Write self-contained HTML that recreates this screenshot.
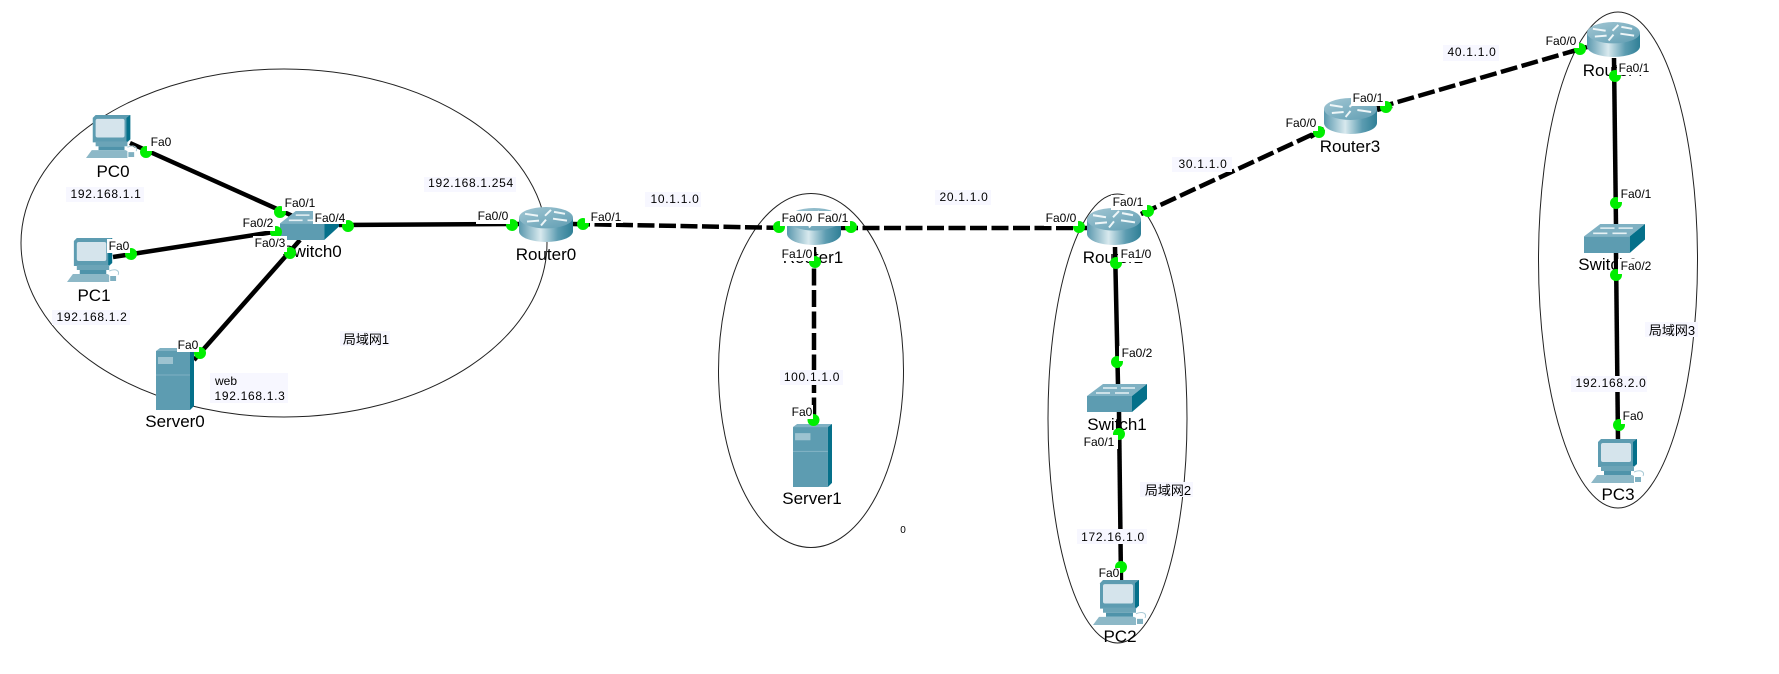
<!DOCTYPE html>
<html><head><meta charset="utf-8"><style>
html,body{margin:0;padding:0;background:#fff;width:1779px;height:674px;overflow:hidden}
svg{display:block}
text{font-family:"Liberation Sans","WenQuanYi Zen Hei","Noto Sans CJK SC",sans-serif;fill:#000}
.d{font-size:17px;text-anchor:middle}
.p{font-size:12px;text-anchor:middle}
.c{font-size:13px;text-anchor:middle}
.n{font-size:12px;text-anchor:middle;letter-spacing:.7px}
.e{fill:none;stroke:#222;stroke-width:1}
.s{stroke:#000;stroke-width:4.5;fill:none}
.k{stroke:#000;stroke-width:4.5;fill:none;stroke-dasharray:17 4.5}
.g{fill:#00ee00}
.w{fill:#fff}
.b{fill:#f7f7ff}
</style></head><body>
<svg width="1779" height="674" viewBox="0 0 1779 674" xmlns="http://www.w3.org/2000/svg">
<defs>
<linearGradient id="rg" x1="0" x2="1" y1="0" y2="0"><stop offset="0" stop-color="#5a98ae"/><stop offset=".4" stop-color="#d8e9ee"/><stop offset=".72" stop-color="#5c9cb1"/><stop offset="1" stop-color="#2f7f96"/></linearGradient>
<linearGradient id="rt" x1="0" x2="1" y1="0" y2="1"><stop offset="0" stop-color="#a3c7d4"/><stop offset="1" stop-color="#5f9db2"/></linearGradient>
<symbol id="router" viewBox="0 0 54 36" overflow="visible" preserveAspectRatio="none">
<path d="M0 11V25A27 11 0 0 0 54 25V11Z" fill="url(#rg)"/>
<ellipse cx="27" cy="11" rx="27" ry="11" fill="url(#rt)"/>
<path d="M6 7L19 9M48 14L34 12M32 3L26 9M22 19L27 13M35 5L46 7M8 15L20 14" stroke="#eef6f8" stroke-width="2" fill="none"/>
</symbol>
<symbol id="switch" viewBox="0 0 60 28" overflow="visible" preserveAspectRatio="none">
<rect x="0" y="12" width="45" height="16" fill="#5d9cb1"/>
<polygon points="0,12 16,0 60,0 45,12" fill="#7fb1c3"/>
<polygon points="45,12 60,0 60,15 45,28" fill="#05708a"/>
<path d="M16 4H30M34 4H48M9 9H23M28 9H42" stroke="#e6f1f4" stroke-width="1.5"/>
</symbol>
<symbol id="pc" viewBox="0 0 54 44" overflow="visible" preserveAspectRatio="none">
<polygon points="7,3 10,0 46,0 46,25 43,28 7,28" fill="#5d9cb1"/>
<polygon points="42,3 46,0 46,25 42,28" fill="#05708a"/>
<rect x="10" y="4" width="30" height="19" rx="2" fill="#d5e4ec"/>
<rect x="10" y="27" width="33" height="5" fill="#6ba4b7"/>
<rect x="13" y="32" width="27" height="4" fill="#4f93aa"/>
<polygon points="6,36 41,36 43,37 43,44 0,44" fill="#8db8c7"/>
<path d="M43 33C50 30 54 33 52 37" stroke="#a9cad6" stroke-width="1" fill="none"/>
<rect x="44" y="38" width="6" height="5" fill="#7fb0c1"/>
</symbol>
<symbol id="server" viewBox="0 0 38 62" overflow="visible" preserveAspectRatio="none">
<rect x="0" y="3" width="34" height="59" fill="#5d9cb1"/>
<polygon points="0,3 4,0 38,0 34,3" fill="#7fb1c3"/>
<polygon points="34,3 38,0 38,58 34,62" fill="#05708a"/>
<rect x="2" y="9" width="15" height="7" fill="#9dc3d0"/>
<path d="M0 27H34" stroke="#7fb1c3" stroke-width="1"/>
</symbol>
</defs>

<!-- areas -->
<ellipse class="e" cx="284" cy="243" rx="263" ry="174"/>
<ellipse class="e" cx="811" cy="370.5" rx="92.5" ry="177"/>
<ellipse class="e" cx="1117.5" cy="418.5" rx="69.5" ry="224.5"/>
<ellipse class="e" cx="1618" cy="260" rx="79.5" ry="248"/>

<!-- links -->
<line class="s" x1="130" y1="143" x2="295" y2="217"/>
<line class="s" x1="113" y1="257" x2="280" y2="231"/>
<line class="s" x1="194" y1="360" x2="300" y2="240"/>
<line class="s" x1="339" y1="225" x2="520" y2="224"/>
<line class="k" x1="573" y1="224" x2="788" y2="228"/>
<line class="k" x1="841" y1="228" x2="1088" y2="228"/>
<line class="k" x1="814" y1="247" x2="814" y2="424"/>
<line class="k" x1="1141" y1="214" x2="1324" y2="129"/>
<line class="k" x1="1377" y1="108" x2="1587" y2="47"/>
<line class="s" x1="1141" y1="214" x2="1154" y2="208"/>
<line class="s" x1="1377" y1="110" x2="1392" y2="106"/>
<line class="s" x1="1310" y1="137" x2="1324" y2="129"/>
<line class="s" x1="1570" y1="52" x2="1587" y2="47"/>
<line class="s" x1="1115" y1="247" x2="1118" y2="385"/>
<line class="s" x1="1119" y1="412" x2="1121" y2="582"/>
<line class="s" x1="1614" y1="58" x2="1616" y2="226"/>
<line class="s" x1="1616" y1="253" x2="1618" y2="441"/>

<!-- devices -->
<use href="#pc" x="86" y="115" width="52" height="43"/>
<use href="#pc" x="67" y="238" width="53" height="44"/>
<use href="#server" x="156" y="348" width="38" height="62"/>
<use href="#switch" x="280" y="211" width="59" height="29"/>
<use href="#router" x="519" y="207" width="54" height="35"/>
<use href="#router" x="787" y="208" width="54" height="37"/>
<use href="#server" x="793" y="424" width="39" height="63"/>
<use href="#router" x="1087" y="208" width="54" height="37"/>
<use href="#switch" x="1087" y="384" width="60" height="28"/>
<use href="#pc" x="1093" y="580" width="54" height="45"/>
<use href="#router" x="1324" y="98" width="53" height="36"/>
<use href="#router" x="1587" y="22" width="53" height="35"/>
<use href="#switch" x="1584" y="224" width="61" height="29"/>
<use href="#pc" x="1591" y="439" width="54" height="44"/>

<!-- device names -->
<text class="d" x="113" y="177">PC0</text>
<text class="d" x="94" y="301">PC1</text>
<text class="d" x="175" y="427">Server0</text>
<text class="d" x="312" y="257">Switch0</text>
<text class="d" x="546" y="260">Router0</text>
<text class="d" x="813" y="263">Router1</text>
<text class="d" x="812" y="504">Server1</text>
<text class="d" x="1113" y="263">Router2</text>
<text class="d" x="1117" y="430">Switch1</text>
<text class="d" x="1120" y="642">PC2</text>
<text class="d" x="1350" y="152">Router3</text>
<text class="d" x="1613" y="76">Router4</text>
<text class="d" x="1608" y="270">Switch2</text>
<text class="d" x="1618" y="500">PC3</text>

<!-- link dots -->
<g class="g">
<circle cx="146" cy="152" r="6"/><circle cx="280" cy="212" r="6"/><circle cx="131" cy="254" r="6"/>
<circle cx="276" cy="232" r="6"/><circle cx="290" cy="253" r="6"/><circle cx="200" cy="353" r="6"/>
<circle cx="348" cy="226" r="6"/><circle cx="512" cy="225" r="6"/><circle cx="583" cy="224" r="6"/>
<circle cx="779" cy="227" r="6"/><circle cx="851" cy="227" r="6"/><circle cx="815" cy="262" r="6"/>
<circle cx="813.5" cy="420" r="6"/><circle cx="1079" cy="227" r="6"/><circle cx="1148" cy="211" r="6"/>
<circle cx="1116" cy="263" r="6"/><circle cx="1117" cy="362" r="6"/><circle cx="1119" cy="434" r="6"/>
<circle cx="1121" cy="567" r="6"/><circle cx="1319" cy="132" r="6"/><circle cx="1386" cy="107" r="6"/>
<circle cx="1580" cy="49" r="6"/><circle cx="1615" cy="76" r="6"/><circle cx="1616" cy="203" r="6"/>
<circle cx="1616" cy="275" r="6"/><circle cx="1619" cy="425" r="6"/>
</g>

<!-- port labels -->
<rect class="w" x="147" y="136" width="25" height="15"/><text class="p" x="161" y="146">Fa0</text>
<rect class="w" x="282" y="196" width="35" height="15"/><text class="p" x="300" y="207">Fa0/1</text>
<rect class="w" x="241" y="216" width="34" height="15"/><text class="p" x="258" y="227">Fa0/2</text>
<rect class="w" x="253" y="236" width="34" height="16"/><text class="p" x="270" y="247">Fa0/3</text>
<rect class="w" x="313" y="211" width="33" height="13"/><text class="p" x="330" y="222">Fa0/4</text>
<rect class="w" x="107" y="239" width="23" height="14"/><text class="p" x="119" y="250">Fa0</text>
<rect class="w" x="177" y="338" width="22" height="14"/><text class="p" x="188" y="349">Fa0</text>
<rect class="w" x="476" y="209" width="34" height="15"/><text class="p" x="493" y="220">Fa0/0</text>
<rect class="w" x="585" y="210" width="38" height="13"/><text class="p" x="606" y="221">Fa0/1</text>
<rect class="w" x="780" y="211" width="34" height="15"/><text class="p" x="797" y="222">Fa0/0</text>
<rect class="w" x="814" y="211" width="36" height="15"/><text class="p" x="833" y="222">Fa0/1</text>
<rect class="w" x="780" y="247" width="34" height="14"/><text class="p" x="797" y="258">Fa1/0</text>
<rect class="w" x="791" y="405" width="22" height="14"/><text class="p" x="802" y="416">Fa0</text>
<rect class="w" x="1044" y="211" width="34" height="15"/><text class="p" x="1061" y="222">Fa0/0</text>
<rect class="w" x="1111" y="195" width="36" height="15"/><text class="p" x="1128" y="206">Fa0/1</text>
<rect class="w" x="1118" y="247" width="35" height="15"/><text class="p" x="1136" y="258">Fa1/0</text>
<rect class="w" x="1119" y="346" width="35" height="15"/><text class="p" x="1137" y="357">Fa0/2</text>
<rect class="w" x="1082" y="435" width="36" height="14"/><text class="p" x="1099" y="446">Fa0/1</text>
<rect class="w" x="1098" y="568" width="22" height="12"/><text class="p" x="1109" y="577">Fa0</text>
<rect class="w" x="1284" y="116" width="34" height="15"/><text class="p" x="1301" y="127">Fa0/0</text>
<rect class="w" x="1351" y="91" width="34" height="15"/><text class="p" x="1368" y="102">Fa0/1</text>
<rect class="w" x="1544" y="34" width="35" height="14"/><text class="p" x="1561" y="45">Fa0/0</text>
<rect class="w" x="1617" y="61" width="34" height="14"/><text class="p" x="1634" y="72">Fa0/1</text>
<rect class="w" x="1618" y="187" width="35" height="15"/><text class="p" x="1636" y="198">Fa0/1</text>
<rect class="w" x="1618" y="259" width="35" height="15"/><text class="p" x="1636" y="270">Fa0/2</text>
<rect class="w" x="1621" y="409" width="23" height="15"/><text class="p" x="1633" y="420">Fa0</text>

<!-- notes -->
<rect class="b" x="66" y="187" width="78" height="15"/><text class="n" x="106" y="198">192.168.1.1</text>
<rect class="b" x="52" y="310" width="78" height="15"/><text class="n" x="92" y="321">192.168.1.2</text>
<rect class="b" x="210" y="373" width="78" height="30"/>
<text class="p" x="226" y="385">web</text><text class="n" x="250" y="400">192.168.1.3</text>
<rect class="b" x="340" y="331" width="50" height="15"/><text class="c" x="366" y="344">局域网1</text>
<rect class="b" x="424" y="177" width="92" height="15"/><text class="n" x="471" y="187">192.168.1.254</text>
<rect class="b" x="645" y="192" width="56" height="15"/><text class="n" x="675" y="203">10.1.1.0</text>
<rect class="b" x="935" y="190" width="56" height="15"/><text class="n" x="964" y="201">20.1.1.0</text>
<rect class="b" x="780" y="370" width="63" height="15"/><text class="n" x="812" y="381">100.1.1.0</text>
<text class="p" x="903" y="533" style="font-size:10px">0</text>
<rect class="b" x="1172" y="157" width="60" height="15"/><text class="n" x="1203" y="168">30.1.1.0</text>
<rect class="b" x="1443" y="45" width="56" height="16"/><text class="n" x="1472" y="56">40.1.1.0</text>
<rect class="b" x="1140" y="482" width="53" height="15"/><text class="c" x="1168" y="495">局域网2</text>
<rect class="b" x="1077" y="529" width="70" height="15"/><text class="n" x="1113" y="541">172.16.1.0</text>
<rect class="b" x="1645" y="322" width="53" height="15"/><text class="c" x="1672" y="335">局域网3</text>
<rect class="b" x="1571" y="376" width="76" height="16"/><text class="n" x="1611" y="387">192.168.2.0</text>
</svg>
</body></html>
